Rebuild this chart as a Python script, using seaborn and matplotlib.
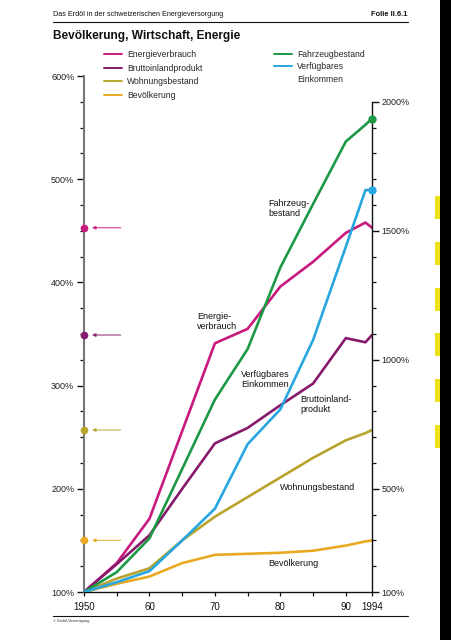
import matplotlib
matplotlib.use("Agg")
import matplotlib.pyplot as plt
import seaborn as sns
from matplotlib.ticker import FixedLocator, MultipleLocator
from matplotlib.patches import Rectangle
from matplotlib.lines import Line2D

# --- data (index, 1950 = 100 %) ---
years = [1950, 1955, 1960, 1965, 1970, 1975, 1980, 1985, 1990, 1993, 1994]
# left scale
energieverbrauch = [100, 128, 171, 256, 341, 355, 396, 420, 448, 458, 453]
bruttoinlandprodukt = [100, 127, 155, 200, 244, 259, 281, 302, 346, 342, 349]
wohnungsbestand = [100, 113, 123, 150, 173, 192, 211, 230, 247, 254, 257]
bevoelkerung = [100, 108, 115, 128, 136, 137, 138, 140, 145, 149, 150]
# right scale
fahrzeugbestand = [100, 177, 308, 577, 846, 1042, 1358, 1604, 1846, 1911, 1935]
einkommen = [100, 138, 181, 300, 423, 673, 808, 1077, 1438, 1658, 1658]

left_ticks = [100, 200, 300, 400, 500, 600]
right_ticks = [100, 500, 1000, 1500, 2000]
right_minor = [v for v in range(200, 2000, 100) if v not in right_ticks]
x_ticks = [1950, 1960, 1970, 1980, 1990, 1994]
x_labels = ["1950", "60", "70", "80", "90", "1994"]

C_ENERGIE = "#c8197e"
C_BIP = "#861a6c"
C_WOHNUNG = "#b8a42c"
C_BEVOELK = "#e9a923"
C_FAHRZEUG = "#1d9845"
C_EINKOMMEN = "#27a6df"

sns.set_style("ticks")
plt.rcParams["font.family"] = ["Liberation Sans", "DejaVu Sans"]

W, H = 452, 640
fig = plt.figure(figsize=(W / 100, H / 100), dpi=100)
ax = fig.add_axes([84 / W, 48 / H, 288 / W, 516 / H])
ax2 = ax.twinx()

left_series = [
    ("Energieverbrauch", energieverbrauch, C_ENERGIE),
    ("Bruttoinlandprodukt", bruttoinlandprodukt, C_BIP),
    ("Wohnungsbestand", wohnungsbestand, C_WOHNUNG),
    ("Bevölkerung", bevoelkerung, C_BEVOELK),
]
right_series = [
    ("Fahrzeugbestand", fahrzeugbestand, C_FAHRZEUG),
    ("Verfügbares", einkommen, C_EINKOMMEN),
]

for name, vals, col in left_series:
    sns.lineplot(x=years, y=vals, ax=ax, color=col, lw=1.9)
    # end value marked on the left axis with an arrow
    ax.plot([years[0]], [vals[-1]], "o", color=col, ms=4.5, clip_on=False, zorder=6)
    ax.annotate("", xy=(1951.2, vals[-1]), xytext=(1955.6, vals[-1]),
                arrowprops=dict(arrowstyle="-|>", color=col, lw=0.9, alpha=0.75,
                                mutation_scale=5, shrinkA=0, shrinkB=0))

for name, vals, col in right_series:
    sns.lineplot(x=years, y=vals, ax=ax2, color=col, lw=1.9)
    ax2.plot([years[-1]], [vals[-1]], "o", color=col, ms=5, clip_on=False, zorder=6)

ax.set_xlim(1950, 1994)
ax.set_ylim(100, 600)
ax2.set_ylim(100, 2100)
ax.set_xlabel("")
ax.set_ylabel("")
ax2.set_ylabel("")

for a in (ax, ax2):
    a.spines["top"].set_visible(False)
ax.spines["right"].set_visible(False)
ax2.spines["left"].set_visible(False)
ax2.spines["bottom"].set_visible(False)
ax.spines["left"].set_color("#777777")
ax.spines["left"].set_linewidth(1.5)
ax.spines["bottom"].set_color("#111111")
ax.spines["bottom"].set_linewidth(1.0)
ax2.spines["right"].set_color("#111111")
ax2.spines["right"].set_linewidth(1.0)
ax2.spines["right"].set_bounds(100, 2000)

ax.yaxis.set_major_locator(FixedLocator(left_ticks))
ax.set_yticklabels([f"{t}%" for t in left_ticks])
ax.yaxis.set_minor_locator(MultipleLocator(25))
ax2.yaxis.set_major_locator(FixedLocator(right_ticks))
ax2.set_yticklabels([f"{t}%" for t in right_ticks])
ax2.yaxis.set_minor_locator(FixedLocator(right_minor))
ax.xaxis.set_major_locator(FixedLocator(x_ticks))
ax.set_xticklabels(x_labels)
ax.xaxis.set_minor_locator(FixedLocator([1955, 1965, 1975, 1985]))

ax.tick_params(axis="y", which="major", length=5, width=1, color="#111111",
               labelsize=6.5, labelcolor="#222222", pad=2)
ax.tick_params(axis="y", which="minor", length=3, width=0.9, color="#111111")
ax2.tick_params(axis="y", which="major", length=5, width=1, color="#111111",
                labelsize=6.5, labelcolor="#222222", pad=2)
ax2.tick_params(axis="y", which="minor", length=3, width=0.9, color="#111111")
ax.tick_params(axis="x", which="both", length=3, width=0.9, color="#111111",
               labelsize=7, labelcolor="#111111", pad=4)

# line labels
lab = dict(fontsize=6.5, color="#111111", va="center", ha="left", linespacing=1.15)
ax.text(1978.1, 472, "Fahrzeug-\nbestand", **lab)
ax.text(1967.3, 362, "Energie-\nverbrauch", **lab)
ax.text(1974.0, 306, "Verfügbares\nEinkommen", **lab)
ax.text(1983.0, 282, "Bruttoinland-\nprodukt", **lab)
ax.text(1979.9, 201, "Wohnungsbestand", **lab)
ax.text(1978.1, 128, "Bevölkerung", **lab)

# legends
h_left = [Line2D([], [], color=c, lw=1.4) for _, _, c in left_series]
h_right = [Line2D([], [], color=c, lw=1.4) for _, _, c in right_series]
h_right.append(Line2D([], [], color="none", lw=0))
leg_kw = dict(frameon=False, fontsize=6.2, handlelength=2.1, handletextpad=0.6,
              labelspacing=0.55, borderpad=0, borderaxespad=0, loc="upper left")
fig.legend(h_left, [n for n, _, _ in left_series],
           bbox_to_anchor=(104 / W, 1 - 50 / H), **leg_kw)
leg_kw["labelspacing"] = 0.38
fig.legend(h_right, [n for n, _, _ in right_series] + ["Einkommen"],
           bbox_to_anchor=(274 / W, 1 - 50 / H), **leg_kw)

# page header / footer
fig.text(53 / W, 1 - 15 / H, "Das Erdöl in der schweizerischen Energieversorgung",
         fontsize=5.2, va="center", ha="left", color="#111111")
fig.text(408 / W, 1 - 15 / H, "Folie II.6.1", fontsize=5.4, fontweight="bold",
         va="center", ha="right", color="#111111")
fig.add_artist(Line2D([53 / W, 408 / W], [1 - 22 / H, 1 - 22 / H], color="#111111", lw=0.8))
fig.text(53 / W, 1 - 36 / H, "Bevölkerung, Wirtschaft, Energie", fontsize=8.6,
         fontweight="bold", va="center", ha="left", color="#111111")
fig.add_artist(Line2D([53 / W, 408 / W], [1 - 616 / H, 1 - 616 / H], color="#111111", lw=0.8))
fig.text(53 / W, 1 - 621 / H, "© Erdöl-Vereinigung", fontsize=3, va="center",
         ha="left", color="#333333")

# black edge strip with yellow register tabs
fig.add_artist(Rectangle((440 / W, 0), 12 / W, 1, transform=fig.transFigure,
                         color="black", lw=0))
for top in [196, 242, 288, 333, 379, 425]:
    fig.add_artist(Rectangle((435 / W, 1 - (top + 23) / H), 5 / W, 23 / H,
                             transform=fig.transFigure, color="#ede11a", lw=0))

fig.savefig("out.png", dpi=100)
